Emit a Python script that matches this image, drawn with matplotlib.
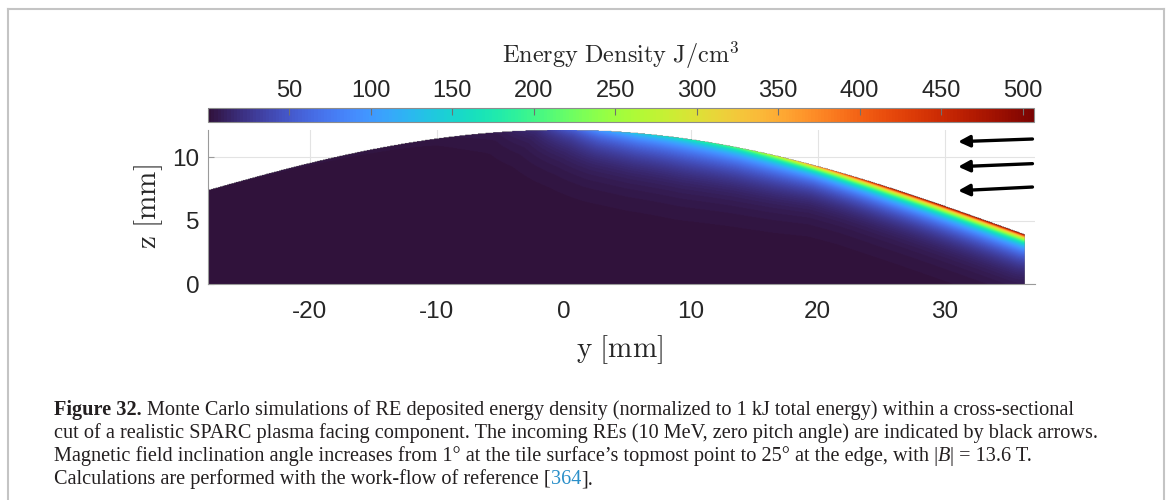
import numpy as np
import matplotlib.pyplot as plt
from matplotlib.lines import Line2D

# surface profile of the tile (y, z in mm)
surf_y = [-28, -20, -15, -10, -5, -2, 2, 5, 10, 16, 20, 25, 30, 36.3]
surf_z = [7.3, 9.6, 10.6, 11.4, 11.87, 11.95, 11.95, 11.85, 11.5, 10.44, 9.27, 7.56, 6.06, 3.96]

# energy density at the surface along y (J/cm^3), its fall-off depth and the faint halo below
dep_y = [-28, -10, -5, -2, 1, 3, 6, 10, 14, 17, 20, 23, 26, 30, 36.3]
dep_E = [2, 3, 5, 15, 50, 90, 130, 160, 210, 285, 375, 450, 495, 505, 505]
dep_L = [1.4, 1.4, 1.4, 1.4, 1.4, 1.4, 1.4, 1.4, 1.3, 1.2, 1.05, 1.0, 1.0, 1.0, 1.0]
dep_sharp = [0.2, 0.2, 0.2, 0.2, 0.2, 0.2, 0.2, 0.2, 0.3, 0.4, 0.5, 0.5, 0.5, 0.5, 0.5]
halo_E = [0, 0, 2, 5, 10, 13, 15, 16, 16, 16, 16, 16, 16, 16, 16]
sharp_scale = 0.3    # mm
halo_scale = 2.0     # mm

cbar_ticks = [50, 100, 150, 200, 250, 300, 350, 400, 450, 500]
x_ticks = [-20, -10, 0, 10, 20, 30]
z_ticks = [0, 5, 10]

# incoming REs: (tail y, tail z, head y, head z)
arrows = [(36.9, 11.44, 31.05, 11.23),
          (36.9, 9.50, 31.05, 9.26),
          (36.9, 7.66, 31.05, 7.37)]

caption = [
    [("Figure 32.", "bold"), (" ", None),
     ("Monte Carlo simulations of RE deposited energy density (normalized to 1 kJ total energy) within a cross-sectional", "normal")],
    [("cut of a realistic SPARC plasma facing component. The incoming REs (10 MeV, zero pitch angle) are indicated by black arrows.", "normal")],
    [("Magnetic field inclination angle increases from 1° at the tile surface\u2019s topmost point to 25° at the edge, with |", "normal"),
     ("B", "italic"), ("| = 13.6 T.", "normal")],
    [("Calculations are performed with the work-flow of reference [", "normal"), ("364", "link"), ("].", "normal")],
]

plt.rcParams['mathtext.fontset'] = 'cm'
plt.rcParams['axes.unicode_minus'] = False

W, H = 1171, 500
fig = plt.figure(figsize=(W / 100, H / 100), dpi=100)

# smooth the hand-read profile with a low order fit
surf_fit = np.polyfit(surf_y, surf_z, 4)

# build the deposited energy field
dy = 0.05
gy = np.arange(-28 + dy / 2, 37.1, dy)
gz = np.arange(dy / 2, 12.15, dy)
sy = np.arange(-28, surf_y[-1] + 1e-9, dy / 2)
sz = np.polyval(surf_fit, sy)
se = np.interp(sy, dep_y, dep_E)
sl = np.interp(sy, dep_y, dep_L)
sf = np.interp(sy, dep_y, dep_sharp)
sh = np.interp(sy, dep_y, halo_E)

field = np.full((len(gz), len(gy)), np.nan)
for j, y in enumerate(gy):
    if y > surf_y[-1]:
        continue
    inside = gz <= np.polyval(surf_fit, y)
    k = np.abs(sy - y) < 6
    d = np.hypot(sy[k][None, :] - y, sz[k][None, :] - gz[inside][:, None])
    e = (sf[k] * se[k] * np.exp(-d / sharp_scale)).max(axis=1)
    e += ((1 - sf[k]) * se[k] * np.exp(-d / sl[k])).max(axis=1)
    e += (sh[k] * np.exp(-d / halo_scale)).max(axis=1)
    field[inside, j] = e

gray = '#9a9a9a'
tick_col = '#262626'

ax = fig.add_axes([208 / W, 1 - 284.3 / H, 827 / W, 154.3 / H])
im = ax.imshow(field, origin='lower', cmap='turbo', vmin=0, vmax=507,
               extent=(-28, -28 + len(gy) * dy, 0, len(gz) * dy),
               aspect='auto', zorder=1)
ax.set_xlim(-28, 37.1)
ax.set_ylim(0, 12.15)
ax.set_axisbelow(True)
ax.grid(True, color='#e3e3e3', lw=0.8)
ax.set_xticks(x_ticks)
ax.set_yticks(z_ticks)
ax.tick_params(direction='in', length=4.5, color=gray, labelcolor=tick_col,
               labelsize=17.5, labelfontfamily='Liberation Sans')
ax.tick_params(axis='x', pad=12)
ax.tick_params(axis='y', pad=6)
for s in ['top', 'right']:
    ax.spines[s].set_visible(False)
for s in ['left', 'bottom']:
    ax.spines[s].set_color(gray)
    ax.spines[s].set_linewidth(0.8)

for ty, tz, hy, hz in arrows:
    ax.annotate('', xy=(hy, hz), xytext=(ty, tz),
                arrowprops=dict(arrowstyle='-|>', color='k', lw=2.4,
                                mutation_scale=17, shrinkA=0, shrinkB=0),
                annotation_clip=False, zorder=5)

# colorbar on top
cax = fig.add_axes([208 / W, 1 - 121.7 / H, 826 / W, 14 / H])
cb = fig.colorbar(im, cax=cax, orientation='horizontal', ticks=cbar_ticks)
cax.xaxis.set_ticks_position('top')
cax.tick_params(direction='in', length=5, color='#707070', labelcolor=tick_col,
                labelsize=17, pad=4.3, labelfontfamily='Liberation Sans')
cb.outline.set_edgecolor('#8c8c8c')
cb.outline.set_linewidth(0.8)

fig.text(621 / W, 1 - 55 / H, r'$\mathrm{Energy\ Density\ J/cm^3}$',
         ha='center', va='center', fontsize=17.5, color=tick_col)
fig.text(620 / W, 1 - 350 / H, r'$\mathrm{y\ [mm]}$',
         ha='center', va='center', fontsize=21, color=tick_col)
fig.text(149 / W, 1 - 207 / H, r'$\mathrm{z\ [mm]}$', rotation=90,
         ha='center', va='center', fontsize=21, color=tick_col)

# page border
for xs, ys in [([8, 8], [9, 500]), ([8, 1164], [9, 9]), ([1164, 1164], [9, 500])]:
    fig.add_artist(Line2D([x / W for x in xs], [1 - y / H for y in ys],
                          color='#c4c4c4', lw=1.5))

# caption
renderer = fig.canvas.get_renderer()
styles = {
    'normal': dict(family='Liberation Serif', color='#231f20'),
    'bold': dict(family='Liberation Serif', weight='bold', color='#231f20'),
    'italic': dict(family='Liberation Serif', style='italic', color='#231f20'),
    'link': dict(family='Liberation Serif', color='#2a8fc9'),
}


def text_w(s, size, st):
    t = fig.text(0, 0, s, fontsize=size, **styles[st])
    w = t.get_window_extent(renderer).width
    t.remove()
    return w


fs = 14 * 1047 / text_w(caption[1][0][0], 14, 'normal')
space_w = text_w('a a', fs, 'normal') - text_w('aa', fs, 'normal')
baselines = [415, 438, 461, 484]
for line, base in zip(caption, baselines):
    x = 54
    for s, st in line:
        if st is None:
            x += space_w
            continue
        t = fig.text(x / W, 1 - base / H, s, fontsize=fs, ha='left',
                     va='baseline', **styles[st])
        x += t.get_window_extent(renderer).width

fig.savefig('out.png', dpi=100)
